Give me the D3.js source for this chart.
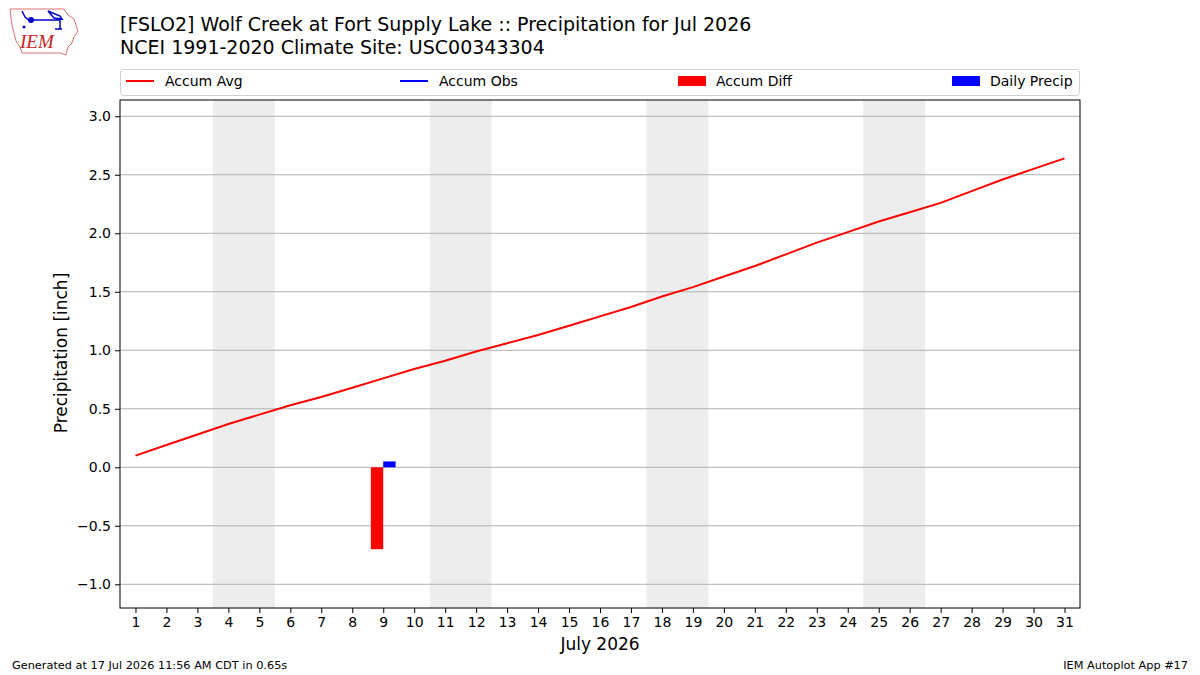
<!DOCTYPE html>
<html>
<head>
<meta charset="utf-8">
<script src="https://cdn.jsdelivr.net/npm/d3@7"></script>
<style>
  body { margin: 0; background: #fff; }
  svg text { font-family: "DejaVu Sans", sans-serif; }
</style>
</head>
<body>
<div id="chart-area"></div>
<script>
// DATA
const days = d3.range(1, 32)
const accumAvg = [0.10, 0.19, 0.28, 0.37, 0.45, 0.53, 0.60, 0.68, 0.76, 0.84,
                  0.91, 0.99, 1.06, 1.13, 1.21, 1.29, 1.37, 1.46, 1.54, 1.63,
                  1.72, 1.82, 1.92, 2.01, 2.10, 2.18, 2.26, 2.36, 2.46, 2.55, 2.64]
const obsDays = [9]
const accumObs = [0.05]
const accumDiff = [-0.70]
const dailyPrecip = [0.05]
const weekends = [[4, 5], [11, 12], [18, 19], [25, 26]]
const yTicks = [-1.0, -0.5, 0.0, 0.5, 1.0, 1.5, 2.0, 2.5, 3.0]
const legendItems = ['Accum Avg', 'Accum Obs', 'Accum Diff', 'Daily Precip']

const W = 1200, H = 675
const pL = 120, pR = 1080, pT = 100, pB = 608

const svg = d3.select('#chart-area')
              .append('svg')
              .attr('width', W)
              .attr('height', H)

const x = d3.scaleLinear().domain([0.5, 31.5]).range([pL, pR])
const y = d3.scaleLinear().domain([-1.2026, 3.139]).range([pB, pT])

// WEEKEND SHADING
svg.selectAll('rect.wk').data(weekends).enter()
   .append('rect')
   .attr('x', d => x(d[0] - 0.5))
   .attr('y', pT)
   .attr('width', d => x(d[1] + 0.5) - x(d[0] - 0.5))
   .attr('height', pB - pT)
   .attr('fill', '#ededed')

// GRID
svg.selectAll('line.grid').data(yTicks).enter()
   .append('line')
   .attr('x1', pL).attr('x2', pR)
   .attr('y1', d => y(d)).attr('y2', d => y(d))
   .attr('stroke', '#b0b0b0')
   .attr('stroke-width', 1)

// BARS
const bw = 0.4
svg.selectAll('rect.diff').data(obsDays).enter()
   .append('rect')
   .attr('x', d => x(d - bw))
   .attr('width', x(bw) - x(0))
   .attr('y', (d, i) => y(Math.max(0, accumDiff[i])))
   .attr('height', (d, i) => Math.abs(y(accumDiff[i]) - y(0)))
   .attr('fill', 'red')

svg.selectAll('rect.daily').data(obsDays).enter()
   .append('rect')
   .attr('x', d => x(d))
   .attr('width', x(bw) - x(0))
   .attr('y', (d, i) => y(Math.max(0, dailyPrecip[i])))
   .attr('height', (d, i) => Math.abs(y(dailyPrecip[i]) - y(0)))
   .attr('fill', 'blue')

// LINES
const line = d3.line().x(d => x(d[0])).y(d => y(d[1]))
svg.append('path')
   .attr('d', line(days.map((d, i) => [d, accumAvg[i]])))
   .attr('fill', 'none')
   .attr('stroke', 'red')
   .attr('stroke-width', 2)
svg.append('path')
   .attr('d', line(obsDays.map((d, i) => [d, accumObs[i]])))
   .attr('fill', 'none')
   .attr('stroke', 'blue')
   .attr('stroke-width', 2)

// AXES
const xAxis = d3.axisBottom(x).tickValues(days).tickSize(5).tickPadding(4)
const yAxis = d3.axisLeft(y).tickValues(yTicks).tickSize(5).tickPadding(4)
                .tickFormat(d => d3.format('.1f')(d).replace('-', '\u2212'))

const gx = svg.append('g').attr('transform', `translate(0,${pB})`).call(xAxis)
const gy = svg.append('g').attr('transform', `translate(${pL},0)`).call(yAxis)
;[gx, gy].forEach(g => {
    g.select('.domain').remove()
    g.selectAll('text').attr('font-size', 14).attr('fill', '#000')
     .style('font-family', '"DejaVu Sans", sans-serif')
    g.selectAll('line').attr('stroke', '#000')
})

svg.append('rect')
   .attr('x', pL).attr('y', pT)
   .attr('width', pR - pL).attr('height', pB - pT)
   .attr('fill', 'none').attr('stroke', '#000').attr('stroke-width', 1)

// AXIS LABELS
svg.append('text')
   .attr('x', (pL + pR) / 2).attr('y', 650)
   .attr('text-anchor', 'middle').attr('font-size', 17)
   .text('July 2026')
svg.append('text')
   .attr('transform', `translate(67,${(pT + pB) / 2 - 1}) rotate(-90)`)
   .attr('text-anchor', 'middle').attr('font-size', 17)
   .text('Precipitation [inch]')

// TITLE
svg.append('text').attr('x', 120).attr('y', 31).attr('font-size', 19)
   .text('[FSLO2] Wolf Creek at Fort Supply Lake :: Precipitation for Jul 2026')
svg.append('text').attr('x', 120).attr('y', 54).attr('font-size', 19)
   .text('NCEI 1991-2020 Climate Site: USC00343304')

// LEGEND
svg.append('rect')
   .attr('x', 120.5).attr('y', 69.5).attr('width', 959).attr('height', 26)
   .attr('rx', 3).attr('fill', '#fff').attr('stroke', '#d0d0d0')
const legX = [126, 400, 678, 952]
const leg = svg.selectAll('g.leg').data(legendItems).enter()
   .append('g').attr('transform', (d, i) => `translate(${legX[i]},81)`)
leg.each(function (d, i) {
    const g = d3.select(this)
    const col = i === 0 || i === 2 ? 'red' : 'blue'
    if (i < 2) {
        g.append('line').attr('x1', 0).attr('x2', 28).attr('y1', 0).attr('y2', 0)
         .attr('stroke', col).attr('stroke-width', 2)
    } else {
        g.append('rect').attr('x', 0).attr('y', -5).attr('width', 28).attr('height', 10)
         .attr('fill', col)
    }
    g.append('text').attr('x', i < 2 ? 39 : 38).attr('y', 5).attr('font-size', 14).text(d)
})

// FOOTER
svg.append('text').attr('x', 12).attr('y', 669).attr('font-size', 11.3)
   .text('Generated at 17 Jul 2026 11:56 AM CDT in 0.65s')
svg.append('text').attr('x', 1188).attr('y', 669).attr('font-size', 11.3)
   .attr('text-anchor', 'end').text('IEM Autoplot App #17')

// LOGO
const logo = svg.append('g').attr('transform', 'translate(8,7)')
logo.append('path')
    .attr('d', 'M2,2 L56,2 L60,8 L66,12 L68,18 L70,24 L66,30 L64,36 L60,40 L58,48 L52,46 L14,46 L12,40 L8,34 L6,26 L4,18 L3,10 Z')
    .attr('fill', 'none').attr('stroke', '#e07070').attr('stroke-width', 1)
logo.append('path')
    .attr('d', 'M14,4 L17,10 L22,14 M22,13 L52,13 M40,4 L52,9 L54,12 L46,11 Z M52,13 L52,22 M47,22 L54,22')
    .attr('fill', 'none').attr('stroke', '#0000cc').attr('stroke-width', 1.5)
logo.append('circle').attr('cx', 23).attr('cy', 13).attr('r', 3).attr('fill', '#0000cc')
logo.append('circle').attr('cx', 16).attr('cy', 20).attr('r', 1.5).attr('fill', '#0000cc')
logo.append('text').attr('x', 12).attr('y', 41).attr('font-size', 19)
    .attr('font-style', 'italic').attr('fill', '#cc2222')
    .style('font-family', '"Liberation Serif", serif').text('IEM')
</script>
</body>
</html>
